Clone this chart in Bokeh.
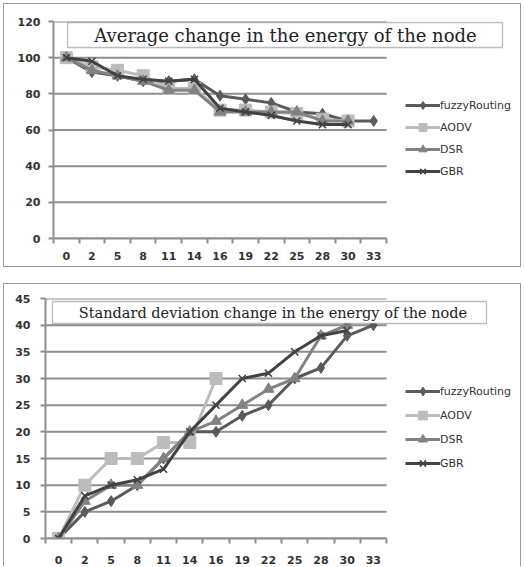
from bokeh.plotting import figure
from bokeh.models import Range1d, FixedTicker, BoxAnnotation, Label, Legend, LegendItem, InlineStyleSheet
from bokeh.embed import file_html
from bokeh.resources import INLINE

categories = ["0", "2", "5", "8", "11", "14", "16", "19", "22", "25", "28", "30", "33"]
series_names = ["fuzzyRouting", "AODV", "DSR", "GBR"]

avg_fuzzy = [100, 92, 90, 87, 87, 88, 79, 77, 75, 70, 69, 65, 65]
avg_aodv = [100, 95, 93, 90, 83, 83, 71, 71, 70, 69, 66, 65]
avg_dsr = [100, 93, 90, 87, 82, 82, 70, 70, 70, 70, 65, 65]
avg_gbr = [100, 98, 90, 88, 87, 88, 72, 70, 68, 65, 63, 63]

std_fuzzy = [0, 5, 7, 10, 15, 20, 20, 23, 25, 30, 32, 38, 40]
std_aodv = [0, 10, 15, 15, 18, 18, 30]
std_dsr = [0, 7, 10, 10, 15, 20, 22, 25, 28, 30, 38, 40]
std_gbr = [0, 8, 10, 11, 13, 20, 25, 30, 31, 35, 38, 39]

avg_ticks = [0, 20, 40, 60, 80, 100, 120]
std_ticks = [0, 5, 10, 15, 20, 25, 30, 35, 40, 45]

colors = ["#5a5a5a", "#bcbcbc", "#828282", "#424242"]
markers = ["diamond", "square", "triangle", "x"]
msizes = [11, 12, 11, 10]

AXIS_FONT = "DejaVu Sans"
GRID = "#8e8e8e"


def border_css(top, bottom, show_bottom):
    return """
:host::after {
  content: "";
  position: absolute;
  left: 3px; top: %dpx; right: 3px; bottom: %dpx;
  border: 1px solid #9a9a9a;
  %s
  pointer-events: none;
  z-index: 1000;
}
""" % (top, bottom, "" if show_bottom else "border-bottom: none;")


def make_chart(series, yticks, ymax, title, title_size, W, H, ml, mt, mb, data_w,
               title_box, title_center, legend_loc, legend_gh, xstand, ystand, css):
    n = len(categories)
    frame_w = W - ml
    x_end = -0.5 + n * frame_w / data_w
    p = figure(width=W, height=H, output_backend="svg", toolbar_location=None,
               min_border_left=ml, min_border_right=0, min_border_top=mt, min_border_bottom=mb,
               x_range=Range1d(-0.5, x_end), y_range=Range1d(0, ymax))
    p.outline_line_color = None
    p.xgrid.grid_line_color = None
    p.ygrid.grid_line_color = None
    p.stylesheets = [InlineStyleSheet(css=css)]

    # horizontal gridlines limited to the category area
    p.segment(x0=[-0.5] * len(yticks), x1=[n - 0.5] * len(yticks), y0=yticks, y1=yticks,
              line_color=GRID, line_width=2, level="underlay")

    xs_all = list(range(n))
    p.xaxis.ticker = FixedTicker(ticks=xs_all, minor_ticks=[i + 0.5 for i in range(-1, n)])
    p.xaxis.bounds = (-0.5, n - 0.5)
    p.xaxis.major_label_overrides = {i: c for i, c in enumerate(categories)}
    p.xaxis.major_tick_line_color = None
    p.xaxis.major_tick_out = 0
    p.xaxis.major_tick_in = 0
    p.xaxis.minor_tick_out = 5
    p.xaxis.minor_tick_in = 0
    p.xaxis.minor_tick_line_color = GRID
    p.xaxis.minor_tick_line_width = 2
    p.xaxis.major_label_standoff = xstand

    p.yaxis.ticker = FixedTicker(ticks=yticks)
    p.yaxis.minor_tick_line_color = None
    p.yaxis.major_tick_out = 5
    p.yaxis.major_tick_in = 0
    p.yaxis.major_tick_line_color = GRID
    p.yaxis.major_tick_line_width = 2
    p.yaxis.major_label_standoff = ystand

    for ax in (p.xaxis, p.yaxis):
        ax.axis_line_color = GRID
        ax.axis_line_width = 2
        ax.major_label_text_font = AXIS_FONT
        ax.major_label_text_font_size = "11px"
        ax.major_label_text_font_style = "bold"
        ax.major_label_text_color = "#333333"

    items = []
    for name, ys, c, m, s in zip(series_names, series, colors, markers, msizes):
        xs = list(range(len(ys)))
        lr = p.line(xs, ys, line_color=c, line_width=3)
        if m == "x":
            sr = p.scatter(xs, ys, marker=m, size=s, line_color=c, line_width=1.5)
        else:
            sr = p.scatter(xs, ys, marker=m, size=s, fill_color=c, line_color=c)
        items.append(LegendItem(label=name, renderers=[lr, sr]))

    legend = Legend(items=items, location=legend_loc, orientation="vertical",
                    background_fill_alpha=0, border_line_color=None,
                    padding=0, margin=0, spacing=2, glyph_width=35, glyph_height=legend_gh,
                    label_height=legend_gh, label_standoff=0,
                    label_text_font=AXIS_FONT, label_text_font_size="11px",
                    label_text_color="#333333")
    p.add_layout(legend)

    bl, br, bb, bt = title_box
    p.add_layout(BoxAnnotation(left=bl, right=br, bottom=bb, top=bt,
                               left_units="screen", right_units="screen",
                               top_units="screen", bottom_units="screen",
                               fill_color="white", fill_alpha=1, line_color="#222222", line_width=1.3,
                               level="annotation"))
    p.add_layout(Label(x=title_center[0], y=title_center[1], x_units="screen", y_units="screen",
                       text=title, text_align="center", text_baseline="middle",
                       text_font="DejaVu Serif", text_font_size=title_size, text_color="#222222"))
    return p


p1 = make_chart([avg_fuzzy, avg_aodv, avg_dsr, avg_gbr], avg_ticks, 120,
                "Average change in the energy of the node", "18px",
                524, 270, 53, 21, 32, 333,
                (14, 449, 191, 216), (232, 203), (352, 57), 20, 8, 8,
                border_css(3, 3, True))

p2 = make_chart([std_fuzzy, std_aodv, std_dsr, std_gbr], std_ticks, 45,
                "Standard deviation change in the energy of the node", "14.5px",
                524, 296, 45, 28, 28, 341,
                (7, 441, 215, 237), (227.5, 226), (360, 64), 22, 12, 10,
                border_css(13, 0, False))

p = [p1, p2]
open("out.html", "w").write(file_html(p, INLINE))
